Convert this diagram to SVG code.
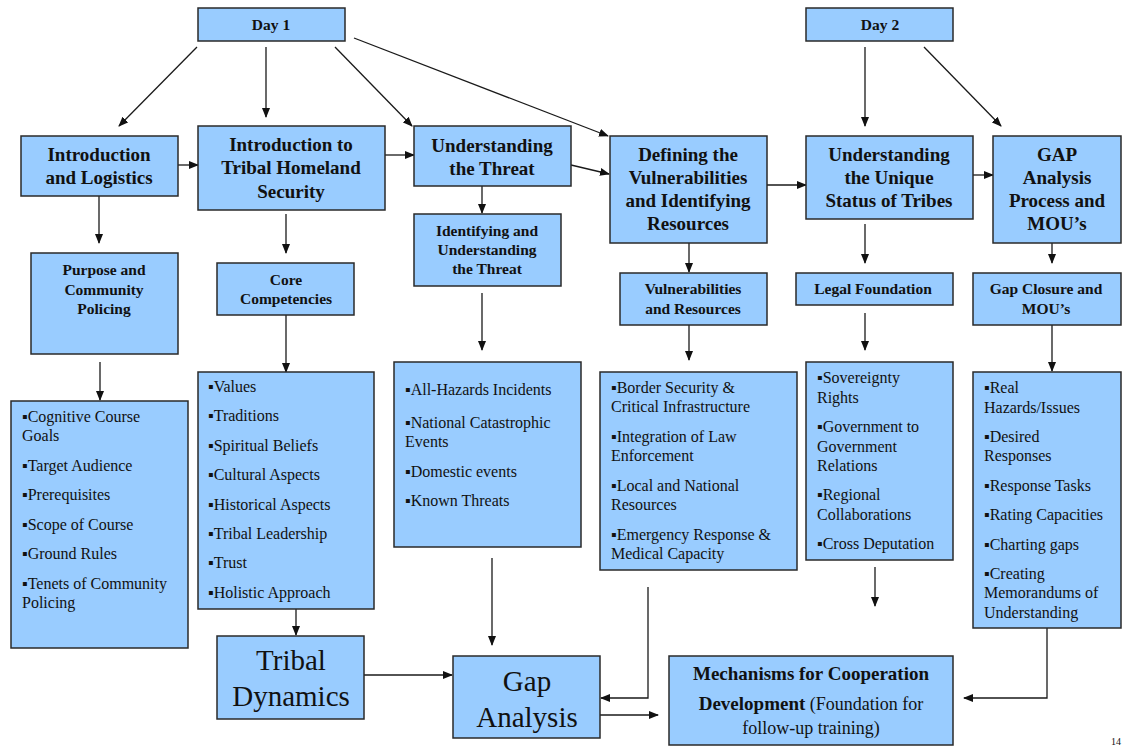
<svg xmlns="http://www.w3.org/2000/svg" width="1126" height="747" viewBox="0 0 1126 747">
<defs>
<marker id="ah" markerWidth="10" markerHeight="10" refX="9" refY="5" orient="auto" markerUnits="userSpaceOnUse">
<path d="M0,1 L10,5 L0,9 Z" fill="#111"/>
</marker>
<style>
.box{fill:#99CCFF;stroke:#2a2a2a;stroke-width:1.5}
text{font-family:'Liberation Serif','DejaVu Serif',serif;fill:#111}
.h{font-size:19px;font-weight:bold;text-anchor:middle}
.s{font-size:15.5px;font-weight:bold;text-anchor:middle}
.b{font-size:16px}
.big{font-size:29px;text-anchor:middle}
.c{fill:none;stroke:#1a1a1a;stroke-width:1.3}
</style>
</defs>
<rect width="1126" height="747" fill="#ffffff"/>

<g id="connectors">
<line class="c" x1="197" y1="47" x2="119" y2="126" marker-end="url(#ah)"/>
<line class="c" x1="266" y1="47" x2="266" y2="117" marker-end="url(#ah)"/>
<line class="c" x1="335" y1="47" x2="412" y2="126" marker-end="url(#ah)"/>
<line class="c" x1="354" y1="38" x2="608" y2="136" marker-end="url(#ah)"/>
<line class="c" x1="865" y1="47" x2="865" y2="126" marker-end="url(#ah)"/>
<line class="c" x1="924" y1="47" x2="1001" y2="126" marker-end="url(#ah)"/>
<line class="c" x1="178" y1="165" x2="198" y2="165" marker-end="url(#ah)"/>
<line class="c" x1="385" y1="155" x2="414" y2="155" marker-end="url(#ah)"/>
<line class="c" x1="571" y1="165" x2="609" y2="174" marker-end="url(#ah)"/>
<line class="c" x1="767" y1="185" x2="806" y2="185" marker-end="url(#ah)"/>
<line class="c" x1="973" y1="175" x2="993" y2="175" marker-end="url(#ah)"/>
<line class="c" x1="99" y1="196" x2="99" y2="243" marker-end="url(#ah)"/>
<line class="c" x1="286" y1="214" x2="286" y2="253" marker-end="url(#ah)"/>
<line class="c" x1="482" y1="186" x2="482" y2="213" marker-end="url(#ah)"/>
<line class="c" x1="689" y1="243" x2="689" y2="272" marker-end="url(#ah)"/>
<line class="c" x1="865" y1="224" x2="865" y2="263" marker-end="url(#ah)"/>
<line class="c" x1="1052" y1="243" x2="1052" y2="263" marker-end="url(#ah)"/>
<line class="c" x1="100" y1="362" x2="100" y2="400" marker-end="url(#ah)"/>
<line class="c" x1="286" y1="315" x2="286" y2="372" marker-end="url(#ah)"/>
<line class="c" x1="482" y1="293" x2="482" y2="350" marker-end="url(#ah)"/>
<line class="c" x1="689" y1="325" x2="689" y2="360" marker-end="url(#ah)"/>
<line class="c" x1="865" y1="313" x2="865" y2="350" marker-end="url(#ah)"/>
<line class="c" x1="1052" y1="325" x2="1052" y2="371" marker-end="url(#ah)"/>
<line class="c" x1="296" y1="609" x2="296" y2="635" marker-end="url(#ah)"/>
<line class="c" x1="492" y1="558" x2="492" y2="645" marker-end="url(#ah)"/>
<line class="c" x1="875" y1="567" x2="875" y2="606" marker-end="url(#ah)"/>
<line class="c" x1="364" y1="675" x2="452" y2="675" marker-end="url(#ah)"/>
<polyline class="c" points="648,587 648,698 601,698" marker-end="url(#ah)"/>
<line class="c" x1="600" y1="715" x2="658" y2="715" marker-end="url(#ah)"/>
<polyline class="c" points="1047,628 1047,698 964,698" marker-end="url(#ah)"/>
</g>

<g id="day1">
<rect class="box" x="198" y="8" width="147" height="33"/>
<text class="s" x="271" y="30">Day 1</text>
</g>
<g id="day2">
<rect class="box" x="806" y="8" width="147" height="33"/>
<text class="s" x="880" y="30">Day 2</text>
</g>

<g id="intro-logistics">
<rect class="box" x="21" y="136" width="157" height="60"/>
<text class="h" x="99" y="161">Introduction</text>
<text class="h" x="99" y="184">and Logistics</text>
</g>
<g id="intro-tribal">
<rect class="box" x="198" y="126" width="187" height="84"/>
<text class="h" x="291" y="151">Introduction to</text>
<text class="h" x="291" y="174">Tribal Homeland</text>
<text class="h" x="291" y="198">Security</text>
</g>
<g id="understanding-threat">
<rect class="box" x="414" y="126" width="157" height="60"/>
<text class="h" x="492" y="152">Understanding</text>
<text class="h" x="492" y="175">the Threat</text>
</g>
<g id="defining">
<rect class="box" x="610" y="136" width="157" height="107"/>
<text class="h" x="688" y="161">Defining the</text>
<text class="h" x="688" y="184">Vulnerabilities</text>
<text class="h" x="688" y="207">and Identifying</text>
<text class="h" x="688" y="230">Resources</text>
</g>
<g id="unique-status">
<rect class="box" x="806" y="136" width="167" height="83"/>
<text class="h" x="889" y="161">Understanding</text>
<text class="h" x="889" y="184">the Unique</text>
<text class="h" x="889" y="207">Status of Tribes</text>
</g>
<g id="gap-process">
<rect class="box" x="993" y="136" width="128" height="107"/>
<text class="h" x="1057" y="161">GAP</text>
<text class="h" x="1057" y="184">Analysis</text>
<text class="h" x="1057" y="207">Process and</text>
<text class="h" x="1057" y="230">MOU’s</text>
</g>

<g id="purpose">
<rect class="box" x="31" y="253" width="147" height="101"/>
<text class="s" x="104" y="275">Purpose and</text>
<text class="s" x="104" y="295">Community</text>
<text class="s" x="104" y="314">Policing</text>
</g>
<g id="core">
<rect class="box" x="217" y="263" width="137" height="52"/>
<text class="s" x="286" y="285">Core</text>
<text class="s" x="286" y="304">Competencies</text>
</g>
<g id="identifying">
<rect class="box" x="414" y="214" width="147" height="72"/>
<text class="s" x="487" y="236">Identifying and</text>
<text class="s" x="487" y="255">Understanding</text>
<text class="s" x="487" y="274">the Threat</text>
</g>
<g id="vuln-res">
<rect class="box" x="620" y="273" width="147" height="52"/>
<text class="s" x="693" y="294">Vulnerabilities</text>
<text class="s" x="693" y="314">and Resources</text>
</g>
<g id="legal">
<rect class="box" x="796" y="273" width="157" height="32"/>
<text class="s" x="873" y="294">Legal Foundation</text>
</g>
<g id="gap-closure">
<rect class="box" x="973" y="273" width="148" height="52"/>
<text class="s" x="1046" y="294">Gap Closure and</text>
<text class="s" x="1046" y="314">MOU’s</text>
</g>

<g id="cognitive-list">
<rect class="box" x="11" y="401" width="177" height="247"/>
<text class="b" x="22" y="422">▪Cognitive Course</text>
<text class="b" x="22" y="441">Goals</text>
<text class="b" x="22" y="471">▪Target Audience</text>
<text class="b" x="22" y="500">▪Prerequisites</text>
<text class="b" x="22" y="530">▪Scope of Course</text>
<text class="b" x="22" y="559">▪Ground Rules</text>
<text class="b" x="22" y="589">▪Tenets of Community</text>
<text class="b" x="22" y="608">Policing</text>
</g>
<g id="values-list">
<rect class="box" x="198" y="372" width="176" height="237"/>
<text class="b" x="208" y="392">▪Values</text>
<text class="b" x="208" y="421">▪Traditions</text>
<text class="b" x="208" y="451">▪Spiritual Beliefs</text>
<text class="b" x="208" y="480">▪Cultural Aspects</text>
<text class="b" x="208" y="510">▪Historical Aspects</text>
<text class="b" x="208" y="539">▪Tribal Leadership</text>
<text class="b" x="208" y="568">▪Trust</text>
<text class="b" x="208" y="598">▪Holistic Approach</text>
</g>
<g id="threat-list">
<rect class="box" x="394" y="362" width="187" height="185"/>
<text class="b" x="405" y="395">▪All-Hazards Incidents</text>
<text class="b" x="405" y="428">▪National Catastrophic</text>
<text class="b" x="405" y="447">Events</text>
<text class="b" x="405" y="477">▪Domestic events</text>
<text class="b" x="405" y="506">▪Known Threats</text>
</g>
<g id="border-list">
<rect class="box" x="600" y="372" width="197" height="198"/>
<text class="b" x="611" y="393">▪Border Security &amp;</text>
<text class="b" x="611" y="412">Critical Infrastructure</text>
<text class="b" x="611" y="442">▪Integration of Law</text>
<text class="b" x="611" y="461">Enforcement</text>
<text class="b" x="611" y="491">▪Local and National</text>
<text class="b" x="611" y="510">Resources</text>
<text class="b" x="611" y="540">▪Emergency Response &amp;</text>
<text class="b" x="611" y="559">Medical Capacity</text>
</g>
<g id="sovereignty-list">
<rect class="box" x="806" y="362" width="147" height="198"/>
<text class="b" x="817" y="383">▪Sovereignty</text>
<text class="b" x="817" y="403">Rights</text>
<text class="b" x="817" y="432">▪Government to</text>
<text class="b" x="817" y="452">Government</text>
<text class="b" x="817" y="471">Relations</text>
<text class="b" x="817" y="500">▪Regional</text>
<text class="b" x="817" y="520">Collaborations</text>
<text class="b" x="817" y="549">▪Cross Deputation</text>
</g>
<g id="hazards-list">
<rect class="box" x="973" y="372" width="148" height="256"/>
<text class="b" x="984" y="393">▪Real</text>
<text class="b" x="984" y="413">Hazards/Issues</text>
<text class="b" x="984" y="442">▪Desired</text>
<text class="b" x="984" y="461">Responses</text>
<text class="b" x="984" y="491">▪Response Tasks</text>
<text class="b" x="984" y="520">▪Rating Capacities</text>
<text class="b" x="984" y="550">▪Charting gaps</text>
<text class="b" x="984" y="579">▪Creating</text>
<text class="b" x="984" y="598">Memorandums of</text>
<text class="b" x="984" y="618">Understanding</text>
</g>

<g id="tribal-dynamics">
<rect class="box" x="217" y="636" width="147" height="83"/>
<text class="big" x="291" y="670">Tribal</text>
<text class="big" x="291" y="706">Dynamics</text>
</g>
<g id="gap-analysis">
<rect class="box" x="453" y="656" width="147" height="82"/>
<text class="big" x="527" y="691">Gap</text>
<text class="big" x="527" y="727">Analysis</text>
</g>
<g id="mechanisms">
<rect class="box" x="669" y="656" width="284" height="89"/>
<text class="h" x="811" y="680">Mechanisms for Cooperation</text>
<text x="811" y="710" style="font-size:18px;text-anchor:middle"><tspan font-weight="bold" font-size="19px">Development</tspan> (Foundation for</text>
<text x="811" y="734" style="font-size:18px;text-anchor:middle">follow-up training)</text>
</g>

<text x="1111" y="745" style="font-size:10px">14</text>
</svg>
